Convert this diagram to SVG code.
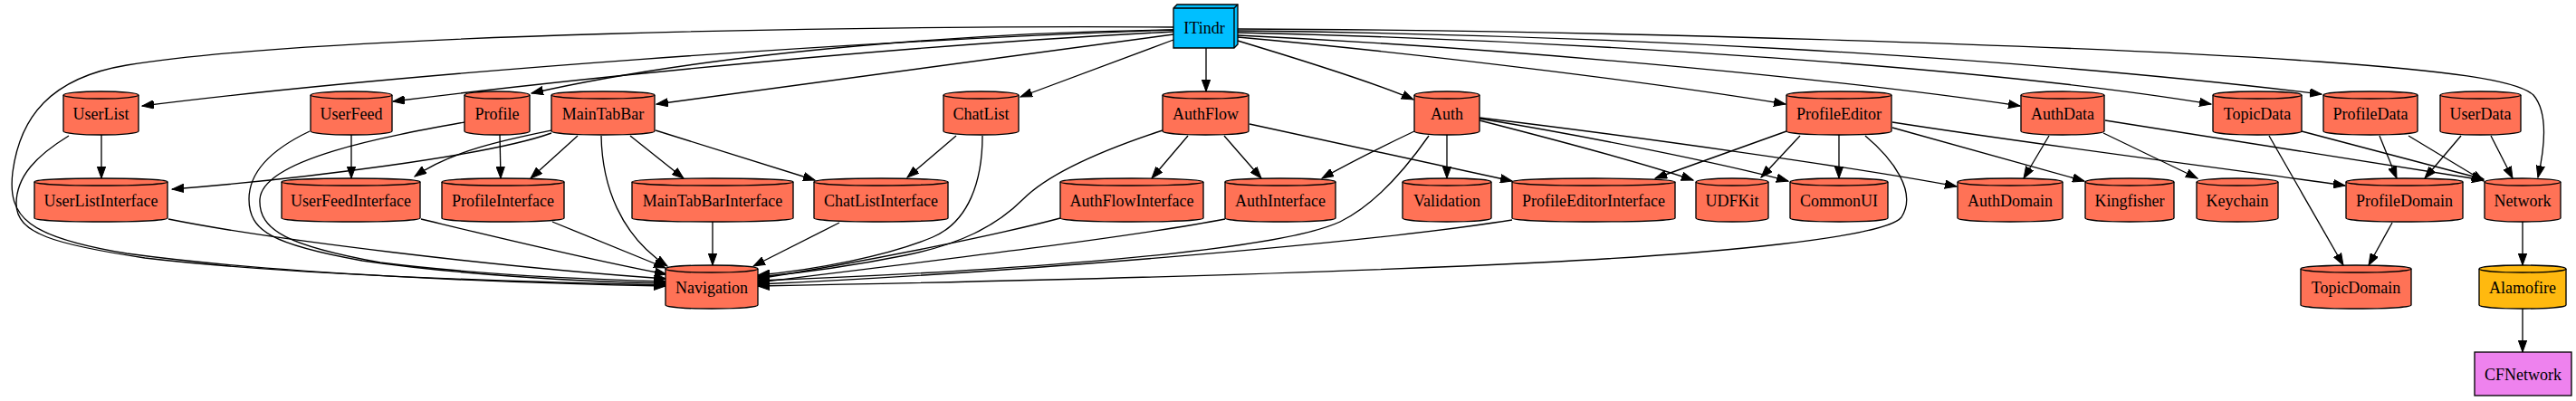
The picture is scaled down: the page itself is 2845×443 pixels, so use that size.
<svg xmlns="http://www.w3.org/2000/svg" width="2845" height="443" viewBox="0 0 2845 443">
<style>
.cyl{fill:#ff7256;stroke:#000;stroke-width:1.33}
.cf{fill:none;stroke:#000;stroke-width:1.33}
.lib{fill:#ffb90f}
text{font-family:"Liberation Serif","Times New Roman",serif;font-size:18px;fill:#000;text-anchor:middle}
.e path{fill:none;stroke:#000;stroke-width:1.33;marker-end:url(#a)}
</style>
<defs>
<marker id="a" markerWidth="14" markerHeight="10" refX="13" refY="5" orient="auto" markerUnits="userSpaceOnUse"><path d="M0,0.3 L13,5 L0,9.7 Z" fill="#000" stroke="#000" stroke-width="1"/></marker>
</defs>
<rect width="2845" height="443" fill="#fff"/>

<g class="e" id="edges">
<path d="M1296,30 C950,28 350,38 140,72 C55,86 22,130 14,190 C8,240 30,262 140,280 C300,302 560,313 735,316"/>
<path d="M1296,33 C950,45 450,80 157,117"/>
<path d="M1296,35 C1000,50 650,85 434,112"/>
<path d="M1296,33 C1100,35 800,55 587,103"/>
<path d="M1296,38 L725,115"/>
<path d="M1296,44 L1127,107"/>
<path d="M1332,53 L1332,101"/>
<path d="M1367,45 C1450,70 1520,92 1561,110"/>
<path d="M1367,41 C1600,62 1850,95 1972,115"/>
<path d="M1367,39 C1700,55 2050,90 2231,117"/>
<path d="M1367,36 C1750,45 2200,75 2442,115"/>
<path d="M1367,34 C1750,38 2200,60 2564,104"/>
<path d="M1367,32 C1750,33 2300,50 2560,68 C2700,78 2780,88 2798,105 C2815,125 2810,165 2803,196"/>

<path d="M112,149 L112,197"/>
<path d="M76,150 C40,172 18,195 18,225 C18,258 60,270 160,285 C330,305 600,312 735,315"/>
<path d="M388,149 L388,197"/>
<path d="M342,145 C300,165 275,190 275,220 C275,255 300,270 400,288 C520,305 650,311 735,313"/>
<path d="M552,149 L553,197"/>
<path d="M513,135 C430,150 290,175 287,220 C285,255 320,272 420,290 C540,305 660,309 735,311"/>

<path d="M609,147 C540,172 330,198 190,209"/>
<path d="M609,144 C560,154 500,166 458,195"/>
<path d="M638,150 L586,197"/>
<path d="M696,150 L755,197"/>
<path d="M724,144 L900,199"/>
<path d="M664,150 C665,205 685,260 737,294"/>

<path d="M1056,150 L1002,196"/>
<path d="M1085,150 C1085,200 1070,245 1030,262 C980,283 900,298 837,304"/>

<path d="M1312,150 L1272,197"/>
<path d="M1352,150 L1393,197"/>
<path d="M1380,137 L1670,200"/>
<path d="M1284,144 C1220,165 1160,190 1130,220 C1100,250 1060,270 1000,282 C940,294 880,302 837,306"/>

<path d="M1562,145 C1520,165 1485,183 1460,197"/>
<path d="M1598,149 L1598,197"/>
<path d="M1634,133 C1720,155 1820,182 1870,199"/>
<path d="M1634,131 C1750,150 1900,180 1975,200"/>
<path d="M1634,130 C1800,150 2050,185 2161,206"/>
<path d="M1578,150 C1550,190 1515,228 1480,245 C1400,282 1050,302 837,310"/>

<path d="M1973,145 L1828,197"/>
<path d="M1988,150 L1945,196"/>
<path d="M2031,149 L2031,197"/>
<path d="M2090,141 L2302,200"/>
<path d="M2090,135 C2250,160 2450,185 2590,205"/>
<path d="M2060,150 C2090,175 2118,212 2100,240 C2082,262 1900,280 1700,290 C1400,305 1000,313 837,316"/>

<path d="M2263,150 L2235,197"/>
<path d="M2323,147 L2427,197"/>
<path d="M2325,133 C2500,160 2650,185 2743,199"/>

<path d="M2542,145 L2743,198"/>
<path d="M2506,150 L2588,293"/>
<path d="M2628,150 L2647,197"/>
<path d="M2660,150 L2743,200"/>
<path d="M2718,150 L2678,197"/>
<path d="M2751,150 L2775,197"/>

<path d="M186,242 C300,265 550,295 736,308"/>
<path d="M465,242 C540,260 650,287 736,303"/>
<path d="M610,245 L735,296"/>
<path d="M787,245 L787,293"/>
<path d="M927,246 L832,294"/>
<path d="M1171,241 C1100,260 950,290 837,308"/>
<path d="M1353,242 C1250,262 1000,292 837,312"/>
<path d="M1670,243 C1500,270 1100,302 837,314"/>

<path d="M2642,246 L2616,293"/>
<path d="M2786,245 L2786,293"/>
<path d="M2786,341 L2786,389"/>
</g>

<g id="ITindr">
<path d="M1296,9 L1300,5 L1367,5 L1367,49 L1363,53 L1296,53 Z" fill="#00bfff" stroke="#000" stroke-width="1.33"/>
<path d="M1296,9 L1363,9 L1363,53 M1363,9 L1367,5" class="cf"/>
<text x="1330" y="37">ITindr</text>
</g>

<g id="UserList"><path class="cyl" d="M70,105 A41.5,4 0 0 1 153,105 L153,145 A41.5,4 0 0 1 70,145 Z"/><path class="cf" d="M70,105 A41.5,4 0 0 0 153,105"/><text x="111.5" y="132">UserList</text></g>
<g id="UserFeed"><path class="cyl" d="M343,105 A45,4 0 0 1 433,105 L433,145 A45,4 0 0 1 343,145 Z"/><path class="cf" d="M343,105 A45,4 0 0 0 433,105"/><text x="388" y="132">UserFeed</text></g>
<g id="Profile"><path class="cyl" d="M513,105 A36,4 0 0 1 585,105 L585,145 A36,4 0 0 1 513,145 Z"/><path class="cf" d="M513,105 A36,4 0 0 0 585,105"/><text x="549" y="132">Profile</text></g>
<g id="MainTabBar"><path class="cyl" d="M609,105 A57,4 0 0 1 723,105 L723,145 A57,4 0 0 1 609,145 Z"/><path class="cf" d="M609,105 A57,4 0 0 0 723,105"/><text x="666" y="132">MainTabBar</text></g>
<g id="ChatList"><path class="cyl" d="M1042,105 A41.5,4 0 0 1 1125,105 L1125,145 A41.5,4 0 0 1 1042,145 Z"/><path class="cf" d="M1042,105 A41.5,4 0 0 0 1125,105"/><text x="1083.5" y="132">ChatList</text></g>
<g id="AuthFlow"><path class="cyl" d="M1284,105 A47.5,4 0 0 1 1379,105 L1379,145 A47.5,4 0 0 1 1284,145 Z"/><path class="cf" d="M1284,105 A47.5,4 0 0 0 1379,105"/><text x="1331.5" y="132">AuthFlow</text></g>
<g id="Auth"><path class="cyl" d="M1562,105 A36,4 0 0 1 1634,105 L1634,145 A36,4 0 0 1 1562,145 Z"/><path class="cf" d="M1562,105 A36,4 0 0 0 1634,105"/><text x="1598" y="132">Auth</text></g>
<g id="ProfileEditor"><path class="cyl" d="M1973,105 A58,4 0 0 1 2089,105 L2089,145 A58,4 0 0 1 1973,145 Z"/><path class="cf" d="M1973,105 A58,4 0 0 0 2089,105"/><text x="2031" y="132">ProfileEditor</text></g>
<g id="AuthData"><path class="cyl" d="M2232,105 A46,4 0 0 1 2324,105 L2324,145 A46,4 0 0 1 2232,145 Z"/><path class="cf" d="M2232,105 A46,4 0 0 0 2324,105"/><text x="2278" y="132">AuthData</text></g>
<g id="TopicData"><path class="cyl" d="M2444,105 A49,4 0 0 1 2542,105 L2542,145 A49,4 0 0 1 2444,145 Z"/><path class="cf" d="M2444,105 A49,4 0 0 0 2542,105"/><text x="2493" y="132">TopicData</text></g>
<g id="ProfileData"><path class="cyl" d="M2566,105 A52,4 0 0 1 2670,105 L2670,145 A52,4 0 0 1 2566,145 Z"/><path class="cf" d="M2566,105 A52,4 0 0 0 2670,105"/><text x="2618" y="132">ProfileData</text></g>
<g id="UserData"><path class="cyl" d="M2695,105 A44.5,4 0 0 1 2784,105 L2784,145 A44.5,4 0 0 1 2695,145 Z"/><path class="cf" d="M2695,105 A44.5,4 0 0 0 2784,105"/><text x="2739.5" y="132">UserData</text></g>

<g id="UserListInterface"><path class="cyl" d="M38,201 A73.5,4 0 0 1 185,201 L185,241 A73.5,4 0 0 1 38,241 Z"/><path class="cf" d="M38,201 A73.5,4 0 0 0 185,201"/><text x="111.5" y="228">UserListInterface</text></g>
<g id="UserFeedInterface"><path class="cyl" d="M311,201 A76.5,4 0 0 1 464,201 L464,241 A76.5,4 0 0 1 311,241 Z"/><path class="cf" d="M311,201 A76.5,4 0 0 0 464,201"/><text x="387.5" y="228">UserFeedInterface</text></g>
<g id="ProfileInterface"><path class="cyl" d="M488,201 A67.5,4 0 0 1 623,201 L623,241 A67.5,4 0 0 1 488,241 Z"/><path class="cf" d="M488,201 A67.5,4 0 0 0 623,201"/><text x="555.5" y="228">ProfileInterface</text></g>
<g id="MainTabBarInterface"><path class="cyl" d="M698,201 A89,4 0 0 1 876,201 L876,241 A89,4 0 0 1 698,241 Z"/><path class="cf" d="M698,201 A89,4 0 0 0 876,201"/><text x="787" y="228">MainTabBarInterface</text></g>
<g id="ChatListInterface"><path class="cyl" d="M899,201 A74,4 0 0 1 1047,201 L1047,241 A74,4 0 0 1 899,241 Z"/><path class="cf" d="M899,201 A74,4 0 0 0 1047,201"/><text x="973" y="228">ChatListInterface</text></g>
<g id="AuthFlowInterface"><path class="cyl" d="M1171,201 A79,4 0 0 1 1329,201 L1329,241 A79,4 0 0 1 1171,241 Z"/><path class="cf" d="M1171,201 A79,4 0 0 0 1329,201"/><text x="1250" y="228">AuthFlowInterface</text></g>
<g id="AuthInterface"><path class="cyl" d="M1353,201 A61,4 0 0 1 1475,201 L1475,241 A61,4 0 0 1 1353,241 Z"/><path class="cf" d="M1353,201 A61,4 0 0 0 1475,201"/><text x="1414" y="228">AuthInterface</text></g>
<g id="Validation"><path class="cyl" d="M1549,201 A49,4 0 0 1 1647,201 L1647,241 A49,4 0 0 1 1549,241 Z"/><path class="cf" d="M1549,201 A49,4 0 0 0 1647,201"/><text x="1598" y="228">Validation</text></g>
<g id="ProfileEditorInterface"><path class="cyl" d="M1670,201 A90,4 0 0 1 1850,201 L1850,241 A90,4 0 0 1 1670,241 Z"/><path class="cf" d="M1670,201 A90,4 0 0 0 1850,201"/><text x="1760" y="228">ProfileEditorInterface</text></g>
<g id="UDFKit"><path class="cyl" d="M1873,201 A40,4 0 0 1 1953,201 L1953,241 A40,4 0 0 1 1873,241 Z"/><path class="cf" d="M1873,201 A40,4 0 0 0 1953,201"/><text x="1913" y="228">UDFKit</text></g>
<g id="CommonUI"><path class="cyl" d="M1977,201 A54,4 0 0 1 2085,201 L2085,241 A54,4 0 0 1 1977,241 Z"/><path class="cf" d="M1977,201 A54,4 0 0 0 2085,201"/><text x="2031" y="228">CommonUI</text></g>
<g id="AuthDomain"><path class="cyl" d="M2162,201 A58,4 0 0 1 2278,201 L2278,241 A58,4 0 0 1 2162,241 Z"/><path class="cf" d="M2162,201 A58,4 0 0 0 2278,201"/><text x="2220" y="228">AuthDomain</text></g>
<g id="Kingfisher"><path class="cyl" d="M2303,201 A49,4 0 0 1 2401,201 L2401,241 A49,4 0 0 1 2303,241 Z"/><path class="cf" d="M2303,201 A49,4 0 0 0 2401,201"/><text x="2352" y="228">Kingfisher</text></g>
<g id="Keychain"><path class="cyl" d="M2426,201 A45,4 0 0 1 2516,201 L2516,241 A45,4 0 0 1 2426,241 Z"/><path class="cf" d="M2426,201 A45,4 0 0 0 2516,201"/><text x="2471" y="228">Keychain</text></g>
<g id="ProfileDomain"><path class="cyl" d="M2591,201 A64.5,4 0 0 1 2720,201 L2720,241 A64.5,4 0 0 1 2591,241 Z"/><path class="cf" d="M2591,201 A64.5,4 0 0 0 2720,201"/><text x="2655.5" y="228">ProfileDomain</text></g>
<g id="Network"><path class="cyl" d="M2744,201 A42,4 0 0 1 2828,201 L2828,241 A42,4 0 0 1 2744,241 Z"/><path class="cf" d="M2744,201 A42,4 0 0 0 2828,201"/><text x="2786" y="228">Network</text></g>

<g id="Navigation"><path class="cyl" d="M735,297 A51,4 0 0 1 837,297 L837,337 A51,4 0 0 1 735,337 Z"/><path class="cf" d="M735,297 A51,4 0 0 0 837,297"/><text x="786" y="324">Navigation</text></g>
<g id="TopicDomain"><path class="cyl" d="M2541,297 A61,4 0 0 1 2663,297 L2663,337 A61,4 0 0 1 2541,337 Z"/><path class="cf" d="M2541,297 A61,4 0 0 0 2663,297"/><text x="2602" y="324">TopicDomain</text></g>
<g id="Alamofire"><path class="cyl lib" d="M2738,297 A48,4 0 0 1 2834,297 L2834,337 A48,4 0 0 1 2738,337 Z"/><path class="cf" d="M2738,297 A48,4 0 0 0 2834,297"/><text x="2786" y="324">Alamofire</text></g>

<g id="CFNetwork"><rect x="2733" y="389" width="107" height="48" fill="#ee82ee" stroke="#000" stroke-width="1.33"/><text x="2786.5" y="420">CFNetwork</text></g>
</svg>
